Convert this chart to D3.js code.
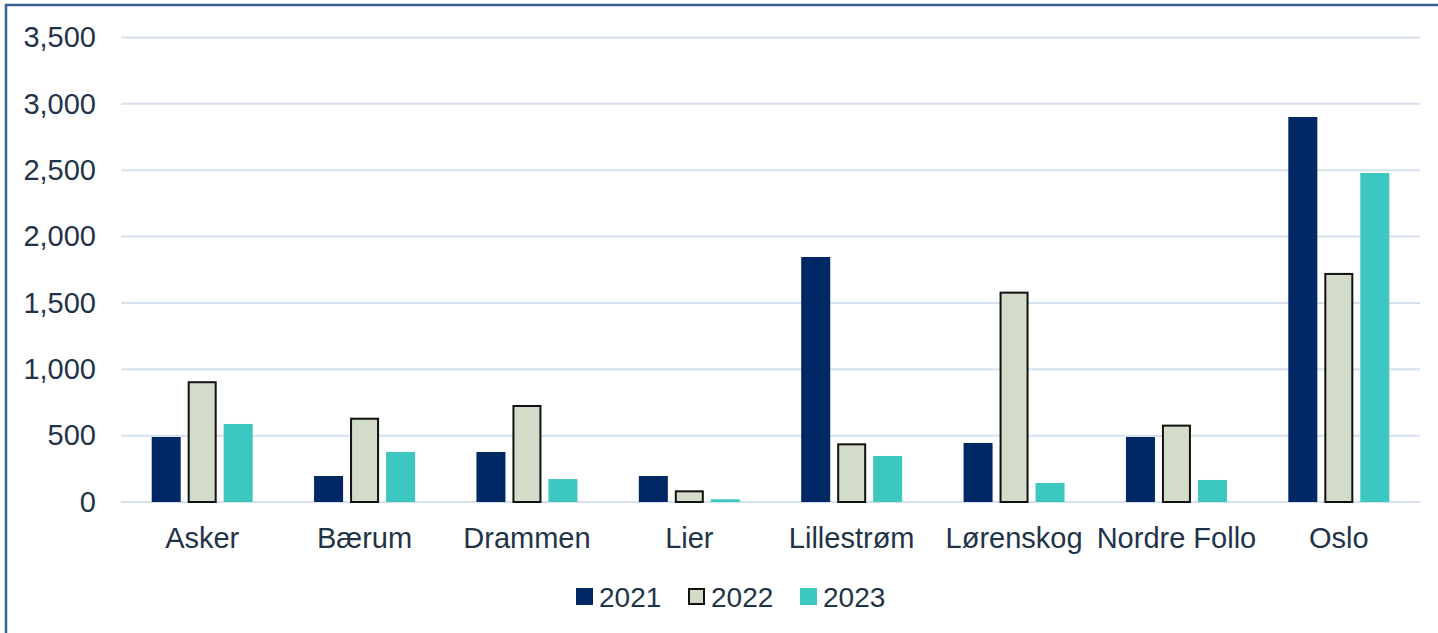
<!DOCTYPE html>
<html>
<head>
<meta charset="utf-8">
<script src="https://cdn.jsdelivr.net/npm/d3@7/dist/d3.min.js"></script>
<style>
  html, body { margin: 0; padding: 0; background: #fff; }
  svg { display: block; font-family: "Liberation Sans", Arial, sans-serif; }
</style>
</head>
<body>
<svg id="chart" width="1438" height="633"></svg>
<script>
const categories = ["Asker", "Bærum", "Drammen", "Lier", "Lillestrøm", "Lørenskog", "Nordre Follo", "Oslo"];
const seriesNames = ["2021", "2022", "2023"];
const values2021 = [490, 196, 377, 196, 1846, 445, 490, 2901];
const values2022 = [910, 635, 731, 88, 442, 1585, 583, 1726];
const values2023 = [588, 377, 173, 20, 347, 143, 166, 2479];
const yTicks = [0, 500, 1000, 1500, 2000, 2500, 3000, 3500];

const seriesValues = [values2021, values2022, values2023];
const fills = ["#002864", "#d3dcc9", "#3cc8c0"];
const strokes = [null, "#111", null];
const textColor = "#1f3349";

const svg = d3.select("#chart");
const plotLeft = 121, plotRight = 1420, plotTop = 37.5, plotBottom = 502;

const y = d3.scaleLinear().domain([0, 3500]).range([plotBottom, plotTop]);
const x0 = d3.scaleBand().domain(categories).range([plotLeft, plotRight]).padding(0);
const x1 = d3.scaleBand().domain(seriesNames).range([0, x0.bandwidth()])
  .paddingInner(0.194).paddingOuter(0.853);

// frame
svg.append("rect").attr("x", 6).attr("y", 5).attr("width", 2000).attr("height", 2000)
  .attr("fill", "none").attr("stroke", "#3a6196").attr("stroke-width", 2.5);

// gridlines
svg.append("g").selectAll("line").data(yTicks).join("line")
  .attr("x1", plotLeft).attr("x2", plotRight)
  .attr("y1", d => y(d)).attr("y2", d => y(d))
  .attr("stroke", "#d6e0ee").attr("stroke-width", 2);

// y axis labels
const yAxis = d3.axisLeft(y).tickValues(yTicks).tickFormat(d3.format(",")).tickSize(0).tickPadding(25);
const gy = svg.append("g").attr("transform", `translate(${plotLeft},0)`).call(yAxis);
gy.select(".domain").remove();
gy.selectAll("text").attr("fill", textColor).style("font-size", "29px")
  .attr("font-family", "Liberation Sans, Arial, sans-serif");

// bars
const rows = categories.map((c, i) => ({ c, vals: seriesNames.map((s, j) => ({ s, j, v: seriesValues[j][i] })) }));
const groups = svg.append("g").selectAll("g").data(rows).join("g")
  .attr("transform", d => `translate(${x0(d.c)},0)`);
groups.selectAll("rect").data(d => d.vals).join("rect")
  .attr("x", d => x1(d.s) + (strokes[d.j] ? 1 : 0))
  .attr("width", d => x1.bandwidth() - (strokes[d.j] ? 2 : 0))
  .attr("y", d => y(d.v) + (strokes[d.j] ? 1 : 0))
  .attr("height", d => plotBottom - y(d.v) - (strokes[d.j] ? 1 : 0))
  .attr("fill", d => fills[d.j])
  .attr("stroke", d => strokes[d.j] || "none")
  .attr("stroke-width", 2);

// x axis labels
const xAxis = d3.axisBottom(x0).tickSize(0).tickPadding(0);
const gx = svg.append("g").attr("transform", `translate(0,${plotBottom})`).call(xAxis);
gx.select(".domain").remove();
gx.selectAll("text").attr("fill", textColor).style("font-size", "29px")
  .attr("font-family", "Liberation Sans, Arial, sans-serif")
  .attr("dy", null).attr("y", 46);

// legend
const legendX = [576, 688, 800];
const lg = svg.append("g").selectAll("g").data(seriesNames).join("g")
  .attr("transform", (d, i) => `translate(${legendX[i]},0)`);
lg.append("rect")
  .attr("x", (d, i) => strokes[i] ? 1 : 0).attr("y", (d, i) => 588 + (strokes[i] ? 1 : 0))
  .attr("width", (d, i) => strokes[i] ? 15 : 17).attr("height", (d, i) => strokes[i] ? 15 : 17)
  .attr("fill", (d, i) => fills[i])
  .attr("stroke", (d, i) => strokes[i] || "none").attr("stroke-width", 2);
lg.append("text").attr("x", 23).attr("y", 607)
  .attr("fill", textColor).style("font-size", "28px").text(d => d);
</script>
</body>
</html>
